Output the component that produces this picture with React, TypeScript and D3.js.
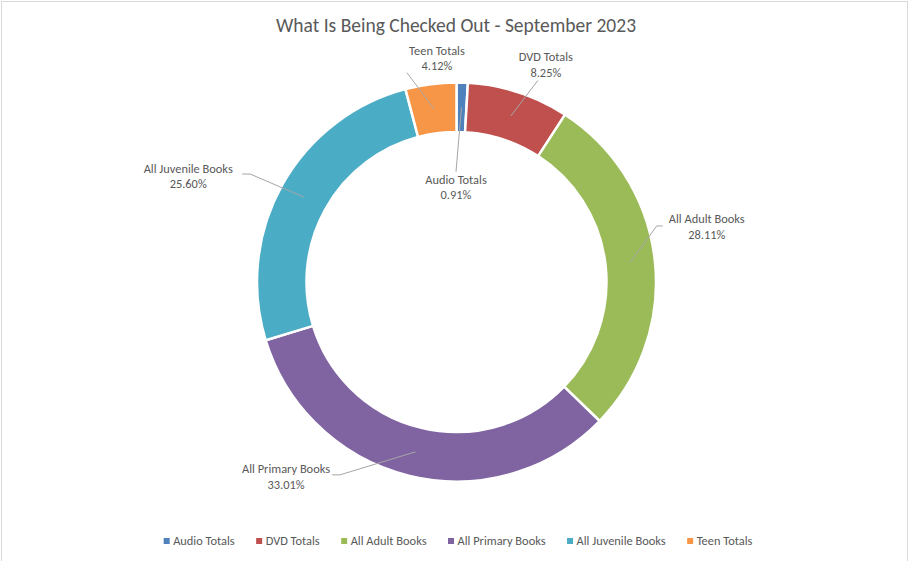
import React, { useEffect, useRef } from "react";
import * as d3 from "d3";

const categories = ["Audio Totals", "DVD Totals", "All Adult Books", "All Primary Books", "All Juvenile Books", "Teen Totals"];
const shares = [0.91, 8.25, 28.11, 33.01, 25.6, 4.12];
const percentLabels = ["0.91%", "8.25%", "28.11%", "33.01%", "25.60%", "4.12%"];
const colors = ["#4F81BD", "#C0504D", "#9BBB59", "#8064A2", "#4BACC6", "#F79646"];
const title = "What Is Being Checked Out - September 2023";

// layout: label centre offset from slice anchor, leader start offset from label centre, elbow length
const labelLayout = [
  { dx: -5.5, dy: 80, lx: 0, ly: -15.5, elbow: 0 },
  { dx: 35, dy: -51, lx: -8, ly: 15.5, elbow: 0 },
  { dx: 76.6, dy: -35.5, lx: -44, ly: -1, elbow: -6 },
  { dx: -129.4, dy: 25, lx: 46, ly: -2, elbow: 8 },
  { dx: -115.6, dy: -21, lx: 54, ly: -2, elbow: 8 },
  { dx: 3, dy: -50.5, lx: -30, ly: 14.5, elbow: 0 },
];

const W = 910;
const H = 561;
const FONT = "Carlito, Calibri, 'Liberation Sans', sans-serif";
const TEXT = "#595959";

export default function App() {
  const ref = useRef<SVGSVGElement>(null);

  useEffect(() => {
    const svg = d3.select(ref.current);
    svg.selectAll("*").remove();

    svg.append("rect").attr("x", 0).attr("y", 0).attr("width", W).attr("height", H).attr("fill", "#fff");
    svg.append("rect").attr("x", 1.5).attr("y", 1.5).attr("width", 906).attr("height", H + 10)
      .attr("fill", "none").attr("stroke", "#d9d9d9").attr("stroke-width", 1);

    svg.append("text").attr("x", 456).attr("y", 32).attr("text-anchor", "middle")
      .attr("font-family", FONT).attr("font-size", 19.5).attr("fill", TEXT).text(title);

    const cx = 456.5, cy = 282, rOuter = 199.5, rInner = 150;
    const data = categories.map((c, i) => ({ name: c, value: shares[i], pct: percentLabels[i], color: colors[i], i }));
    const pie = d3.pie<any>().value((d) => d.value).sort(null).startAngle(0).endAngle(2 * Math.PI);
    const arcs = pie(data);
    const arc = d3.arc<any>().innerRadius(rInner).outerRadius(rOuter);
    const mid = d3.arc<any>().innerRadius((rInner + rOuter) / 2).outerRadius((rInner + rOuter) / 2);

    const g = svg.append("g").attr("transform", `translate(${cx},${cy})`);
    g.selectAll("path.slice").data(arcs).join("path").attr("class", "slice")
      .attr("d", arc as any).attr("fill", (d: any) => d.data.color)
      .attr("stroke", "#fff").attr("stroke-width", 2.5).attr("stroke-linejoin", "round");

    arcs.forEach((a: any, i: number) => {
      const [ax, ay] = mid.centroid(a);
      const L = labelLayout[i];
      const lxc = ax + L.dx, lyc = ay + L.dy;
      const sx = lxc + L.lx, sy = lyc + L.ly;
      const pts: [number, number][] = [[sx, sy]];
      if (L.elbow) pts.push([sx + L.elbow, sy]);
      pts.push([ax, ay]);
      g.append("path").attr("d", d3.line()(pts)).attr("fill", "none").attr("stroke", "#a6a6a6").attr("stroke-width", 1);
      const t = g.append("text").attr("text-anchor", "middle").attr("font-family", FONT).attr("font-size", 12.4).attr("fill", TEXT);
      t.append("tspan").attr("x", lxc).attr("y", lyc - 3.5).text(a.data.name);
      t.append("tspan").attr("x", lxc).attr("y", lyc + 12).text(a.data.pct);
    });

    const lg = svg.append("g");
    const items = data.map((d) => {
      const gi = lg.append("g");
      gi.append("rect").attr("width", 6).attr("height", 6).attr("y", -7).attr("fill", d.color);
      const t = gi.append("text").attr("x", 9.5).attr("y", 0).attr("font-family", FONT).attr("font-size", 12.4).attr("fill", TEXT).text(d.name);
      const w = 9.5 + (t.node() as SVGTextElement).getComputedTextLength();
      return { gi, w };
    });
    const gap = 21.5;
    const total = d3.sum(items, (d) => d.w) + gap * (items.length - 1);
    let x = 458 - total / 2;
    items.forEach((it) => {
      it.gi.attr("transform", `translate(${x},545)`);
      x += it.w + gap;
    });
  }, []);

  return (
    <svg ref={ref} width={W} height={H} style={{ position: "absolute", left: 0, top: 0, display: "block" }} />
  );
}
